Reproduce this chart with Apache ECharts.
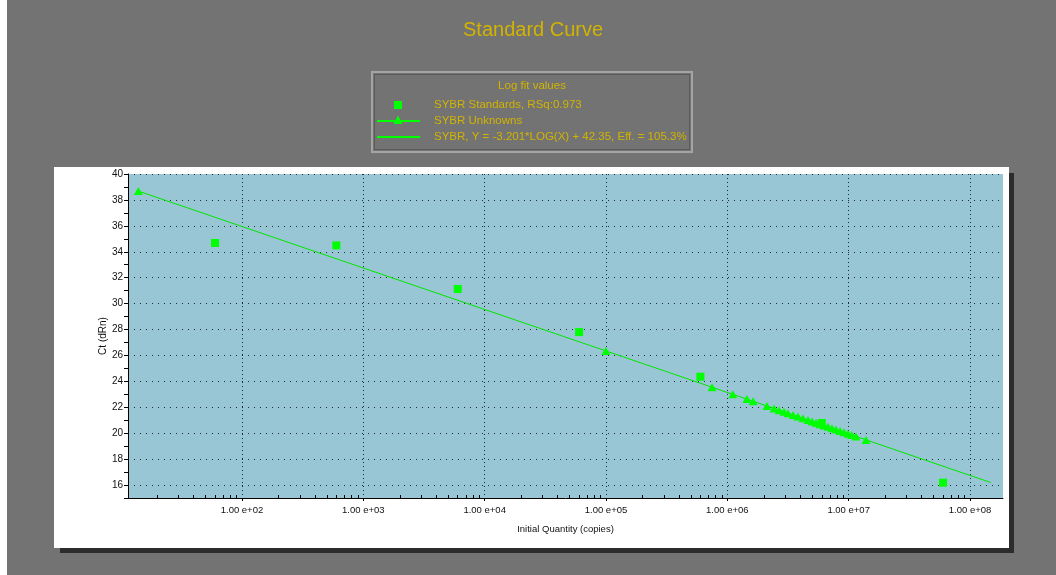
<!DOCTYPE html>
<html>
<head>
<meta charset="utf-8">
<title>Standard Curve</title>
<script src="https://cdn.jsdelivr.net/npm/echarts@6/dist/echarts.min.js"></script>
<style>
  html, body { margin: 0; padding: 0; background: #737373; }
  #chart { width: 1056px; height: 575px; }
</style>
</head>
<body>
<div id="chart"></div>
<script>
// Standards: known input quantity (copies) and measured Ct
const stdQty = [60, 600, 6000, 60000, 600000, 6000000, 60000000];
const stdCt  = [34.68, 34.49, 31.13, 27.80, 24.36, 20.79, 16.18];

// Unknowns: quantity read back from the curve, with their Ct
const unkQty = [14, 99800, 748000, 1110000, 1450000, 1630000, 2120000, 2430000,
  2670000, 2930000, 3160000, 3480000, 3820000, 4200000, 4620000, 4990000,
  5380000, 5800000, 6260000, 6750000, 7280000, 7860000, 8480000, 9150000,
  9870000, 10600000, 11500000, 13900000];
const unkCt = [38.68, 26.35, 23.55, 23.00, 22.63, 22.47, 22.10, 21.91,
  21.78, 21.65, 21.54, 21.41, 21.28, 21.15, 21.02, 20.91,
  20.80, 20.70, 20.59, 20.49, 20.38, 20.28, 20.17, 20.07,
  19.96, 19.86, 19.75, 19.48];

// Log fit: Y = slope*LOG(X) + intercept, drawn across this quantity range
const fitSlope = -3.201;
const fitIntercept = 42.35;
const fitEff = 105.3;
const fitRange = [14, 148000000];

// Axis ranges and tick labels
const xRange = [11.5, 187000000];
const yRange = [15, 40];
const decadeLabels = ['1.00 e+02', '1.00 e+03', '1.00 e+04', '1.00 e+05', '1.00 e+06', '1.00 e+07', '1.00 e+08'];
const minorMultiples = [2, 3, 4, 5, 6, 7, 8, 9];

const stdName = 'SYBR Standards, RSq:0.973';
const unkName = 'SYBR Unknowns';
const fitName = 'SYBR, Y = ' + fitSlope.toFixed(3) + '*LOG(X) + ' + fitIntercept.toFixed(2) + ', Eff. = ' + fitEff.toFixed(1) + '%';

const GREEN = '#00ff00';
const GOLD = '#d2b400';
const FONT = '"Liberation Sans", Arial, sans-serif';

const stdData = stdQty.map((q, i) => [q, stdCt[i]]);
const unkData = unkQty.map((q, i) => [q, unkCt[i]]);
const fitData = fitRange.map(q => [q, fitSlope * Math.log10(q) + fitIntercept]);

// Minor tick positions on the log axis (2..9 within each decade)
const minorTicks = [];
for (let e = 1; e <= 8; e++) {
  minorMultiples.forEach(m => {
    const v = m * Math.pow(10, e);
    if (v > xRange[0] && v < xRange[1]) minorTicks.push(v);
  });
}

function decadeLabel(v) {
  const lg = Math.log10(v);
  const e = Math.round(lg);
  if (Math.abs(lg - e) > 1e-6) return '';
  return decadeLabels[e - 2] || '';
}

const chart = echarts.init(document.getElementById('chart'), null, { renderer: 'canvas' });

const option = {
  backgroundColor: '#737373',
  animation: false,
  title: {
    text: 'Standard Curve',
    left: 463,
    top: 20,
    padding: 0,
    textStyle: { color: GOLD, fontSize: 20, fontWeight: 'normal', fontFamily: FONT }
  },
  grid: {
    left: 128, top: 174, right: 53, bottom: 77,
    show: true,
    backgroundColor: '#99c6d4',
    borderWidth: 0
  },
  xAxis: [
    {
      type: 'log',
      logBase: 10,
      min: xRange[0],
      max: xRange[1],
      position: 'bottom',
      name: 'Initial Quantity (copies)',
      nameLocation: 'middle',
      nameGap: 26,
      nameTextStyle: { color: '#111', fontSize: 9.5, fontFamily: FONT },
      axisLine: { show: true, lineStyle: { color: '#000', width: 1 } },
      axisTick: { show: true, inside: false, length: 3, lineStyle: { color: '#000' } },
      axisLabel: {
        show: true, margin: 7, color: '#111', fontSize: 9.5, fontFamily: FONT,
        showMinLabel: false, showMaxLabel: false,
        formatter: decadeLabel
      },
      splitLine: { show: true, showMinLine: false, showMaxLine: false, lineStyle: { color: '#1e2a30', type: [1, 3], width: 1 } },
      minorTick: { show: false }
    },
    {
      type: 'log',
      logBase: 10,
      min: xRange[0],
      max: xRange[1],
      position: 'bottom',
      axisLine: { show: false },
      axisTick: { show: true, inside: true, length: 3, lineStyle: { color: '#000' }, customValues: minorTicks },
      axisLabel: { show: false },
      splitLine: { show: false }
    }
  ],
  yAxis: {
    type: 'value',
    min: yRange[0],
    max: yRange[1],
    splitNumber: 12,
    minInterval: 2,
    maxInterval: 2,
    name: 'Ct (dRn)',
    nameLocation: 'middle',
    nameGap: 20,
    nameMoveOverlap: false,
    nameRotate: 90,
    nameTextStyle: { color: '#111', fontSize: 10, fontFamily: FONT },
    axisLine: { show: true, lineStyle: { color: '#000', width: 1 } },
    axisTick: { show: true, inside: false, length: 4, lineStyle: { color: '#000' } },
    minorTick: { show: true, splitNumber: 2, length: 4, lineStyle: { color: '#000' } },
    axisLabel: { color: '#111', fontSize: 10, fontFamily: FONT, margin: 5, showMinLabel: false },
    splitLine: { show: true, showMinLine: false, lineStyle: { color: '#1e2a30', type: [1, 5], width: 1 } }
  },
  series: [
    {
      name: fitName,
      type: 'line',
      xAxisIndex: 0,
      data: fitData,
      showSymbol: false,
      symbol: 'none',
      lineStyle: { color: '#00e600', width: 1 },
      z: 2
    },
    {
      name: stdName,
      type: 'scatter',
      xAxisIndex: 0,
      data: stdData,
      symbol: 'rect',
      symbolSize: 8,
      itemStyle: { color: GREEN, opacity: 1 },
      z: 3
    },
    {
      name: unkName,
      type: 'scatter',
      xAxisIndex: 0,
      data: unkData,
      symbol: 'triangle',
      symbolSize: [9, 8],
      itemStyle: { color: GREEN, opacity: 1 },
      z: 4
    }
  ],
  graphic: [
    // left white margin
    { type: 'rect', z: -5, shape: { x: 0, y: 0, width: 7, height: 575 }, style: { fill: '#ffffff' } },
    // panel shadow and white panel behind the plot
    { type: 'rect', z: -3, shape: { x: 60, y: 173, width: 954, height: 380 }, style: { fill: '#2c2c2c' } },
    { type: 'rect', z: -2, shape: { x: 54, y: 167, width: 955, height: 381 }, style: { fill: '#ffffff' } },
    // fit legend box
    { type: 'rect', z: 5, shape: { x: 372, y: 72, width: 320, height: 80 }, style: { fill: '#737373', stroke: '#a4a4a4', lineWidth: 2 } },
    { type: 'rect', z: 5, shape: { x: 374.5, y: 74.5, width: 315, height: 75 }, style: { fill: null, stroke: '#5a5a5a', lineWidth: 1 } },
    { type: 'text', z: 6, style: { text: 'Log fit values', x: 532, y: 86, fill: GOLD, font: '11.5px ' + FONT, align: 'center', verticalAlign: 'middle' } },
    // standards row
    { type: 'rect', z: 6, shape: { x: 394, y: 101, width: 8, height: 8 }, style: { fill: GREEN } },
    { type: 'text', z: 6, style: { text: stdName, x: 434, y: 105, fill: GOLD, font: '11.5px ' + FONT, align: 'left', verticalAlign: 'middle' } },
    // unknowns row
    { type: 'rect', z: 6, shape: { x: 377, y: 120, width: 43, height: 2 }, style: { fill: GREEN } },
    { type: 'polygon', z: 7, shape: { points: [[398, 115.5], [402.5, 124], [393.5, 124]] }, style: { fill: GREEN } },
    { type: 'text', z: 6, style: { text: unkName, x: 434, y: 121, fill: GOLD, font: '11.5px ' + FONT, align: 'left', verticalAlign: 'middle' } },
    // fit row
    { type: 'rect', z: 6, shape: { x: 377, y: 136, width: 43, height: 2 }, style: { fill: GREEN } },
    { type: 'text', z: 6, style: { text: fitName, x: 434, y: 137, fill: GOLD, font: '11.5px ' + FONT, align: 'left', verticalAlign: 'middle' } }
  ]
};

chart.setOption(option);
</script>
</body>
</html>
